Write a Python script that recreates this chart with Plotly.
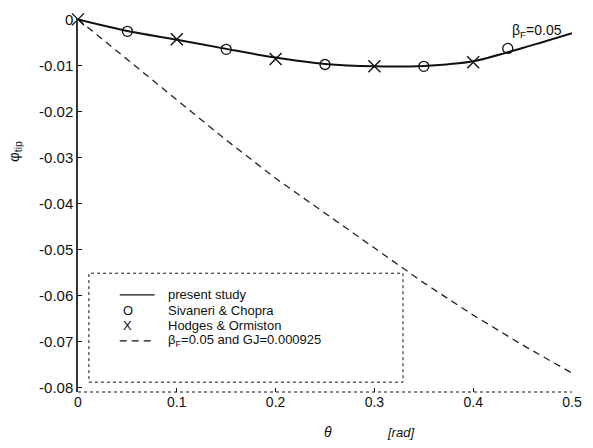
import plotly.graph_objects as go

# ---- data ----
theta_present = [0.0, 0.05, 0.1, 0.15, 0.2, 0.25, 0.3, 0.35, 0.4, 0.45, 0.5]
phi_present = [0.0, -0.0025, -0.0044, -0.0064, -0.0083, -0.0097, -0.0102, -0.0101, -0.0091, -0.0062, -0.0030]

theta_sivaneri = [0.05, 0.15, 0.25, 0.35, 0.435]
phi_sivaneri = [-0.0026, -0.0065, -0.0098, -0.0102, -0.0063]

theta_hodges = [0.0, 0.1, 0.2, 0.3, 0.4]
phi_hodges = [0.0, -0.0043, -0.0086, -0.0102, -0.0093]

theta_gj = [0.0, 0.05, 0.1, 0.15, 0.2, 0.25, 0.3, 0.35, 0.4, 0.45, 0.5]
phi_gj = [0.0, -0.0088, -0.0175, -0.0262, -0.0345, -0.0421, -0.0497, -0.0572, -0.0642, -0.0707, -0.0768]

x_ticks = [0, 0.1, 0.2, 0.3, 0.4, 0.5]
x_ticktext = ["0", "0.1", "0.2", "0.3", "0.4", "0.5"]
y_ticks = [0, -0.01, -0.02, -0.03, -0.04, -0.05, -0.06, -0.07, -0.08]
y_ticktext = ["0", "-0.01", "-0.02", "-0.03", "-0.04", "-0.05", "-0.06", "-0.07", "-0.08"]

legend_labels = ["present study", "Sivaneri & Chopra", "Hodges & Ormiston",
                 "β<sub>F</sub>=0.05 and GJ=0.000925"]

# ---- figure ----
W, H = 593, 448
L, R, T, B = 78, 18, 11, 56
PW, PH = W - L - R, H - T - B

def px(x):
    return (x - L) / PW

def py(y):
    return (H - B - y) / PH

FONT = "Liberation Sans, Arial, sans-serif"
INK = "#111111"

fig = go.Figure()
fig.add_trace(go.Scatter(x=theta_gj, y=phi_gj, mode="lines",
                         line=dict(color="#222222", width=1.3, dash="7px,5px"),
                         showlegend=False, cliponaxis=False))
fig.add_trace(go.Scatter(x=theta_present, y=phi_present, mode="lines",
                         line=dict(color=INK, width=2, shape="spline", smoothing=0.8),
                         showlegend=False, cliponaxis=False))
fig.add_trace(go.Scatter(x=theta_sivaneri, y=phi_sivaneri, mode="markers",
                         marker=dict(symbol="circle-open", size=10, color=INK, line=dict(width=1.3)),
                         showlegend=False, cliponaxis=False))
fig.add_trace(go.Scatter(x=theta_hodges, y=phi_hodges, mode="markers",
                         marker=dict(symbol="x-thin-open", size=12, color=INK, line=dict(width=1.4, color=INK)),
                         showlegend=False, cliponaxis=False))

shapes = [
    # dotted bottom axis
    dict(type="line", xref="paper", yref="paper", x0=0, x1=1, y0=0, y1=0,
         line=dict(color=INK, width=1, dash="dot")),
    # legend box
    dict(type="rect", xref="paper", yref="paper", x0=px(89), x1=px(405), y0=py(382), y1=py(271),
         line=dict(color=INK, width=1, dash="dot"), fillcolor="rgba(0,0,0,0)"),
    # legend line samples
    dict(type="line", xref="paper", yref="paper", x0=px(120), x1=px(155), y0=py(293), y1=py(293),
         line=dict(color=INK, width=1.2)),
    dict(type="line", xref="paper", yref="paper", x0=px(120), x1=px(155), y0=py(340), y1=py(340),
         line=dict(color=INK, width=1.2, dash="7px,5px")),
]

annotations = []
for lbl, yy in zip(legend_labels, [293, 309, 324, 340]):
    annotations.append(dict(text=lbl, xref="paper", yref="paper", x=px(167), y=py(yy),
                            xanchor="left", yanchor="middle", showarrow=False,
                            font=dict(family=FONT, size=13, color=INK)))
for sym, yy in zip(["O", "X"], [309, 324]):
    annotations.append(dict(text=sym, xref="paper", yref="paper", x=px(128), y=py(yy),
                            xanchor="center", yanchor="middle", showarrow=False,
                            font=dict(family=FONT, size=13, color=INK)))
# axis titles
annotations.append(dict(text="<i>θ</i>", xref="paper", yref="paper", x=px(330), y=py(433),
                        xanchor="center", yanchor="middle", showarrow=False,
                        font=dict(family=FONT, size=14, color=INK)))
annotations.append(dict(text="<i>[rad]</i>", xref="paper", yref="paper", x=px(402), y=py(433),
                        xanchor="center", yanchor="middle", showarrow=False,
                        font=dict(family=FONT, size=13, color=INK)))
annotations.append(dict(text="φ<sub>tip</sub>", xref="paper", yref="paper", x=px(14), y=py(147),
                        xanchor="center", yanchor="middle", showarrow=False, textangle=-90,
                        font=dict(family=FONT, size=15, color=INK)))
annotations.append(dict(text="β<sub>F</sub>=0.05", xref="paper", yref="paper", x=px(540), y=py(24),
                        xanchor="center", yanchor="middle", showarrow=False,
                        font=dict(family=FONT, size=14, color=INK)))

fig.update_layout(
    width=W, height=H,
    margin=dict(l=L, r=R, t=T, b=B),
    paper_bgcolor="white", plot_bgcolor="white",
    showlegend=False,
    font=dict(family=FONT, size=14, color=INK),
    shapes=shapes, annotations=annotations,
    xaxis=dict(range=[0, 0.5], tickvals=x_ticks, ticktext=x_ticktext,
               ticks="inside", ticklen=4, tickcolor=INK, showline=False,
               showgrid=False, zeroline=False, fixedrange=True,
               tickfont=dict(family=FONT, size=14, color=INK)),
    yaxis=dict(range=[-0.0809, 0.0003], tickvals=y_ticks, ticktext=y_ticktext,
               ticks="inside", ticklen=4, tickcolor=INK, showline=True, linecolor="#333333",
               linewidth=1.5, showgrid=False, zeroline=False, fixedrange=True,
               tickfont=dict(family=FONT, size=15, color=INK)),
)

fig.write_html("out.html")
